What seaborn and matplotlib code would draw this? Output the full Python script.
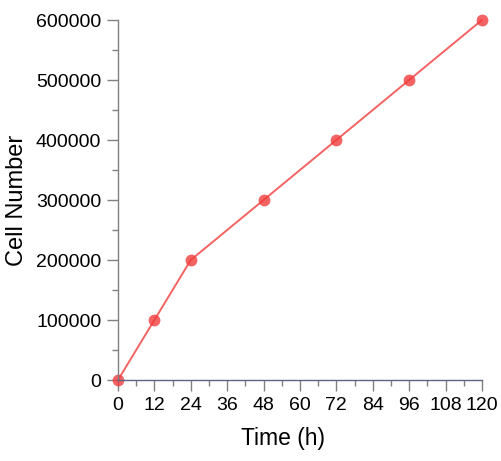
import matplotlib
matplotlib.use("Agg")
import matplotlib.pyplot as plt
from matplotlib.ticker import MultipleLocator
import seaborn as sns
import pandas as pd

time_h = [0, 12, 24, 48, 72, 96, 120]
cell_number = [0, 100000, 200000, 300000, 400000, 500000, 600000]
x_ticks = [0, 12, 24, 36, 48, 60, 72, 84, 96, 108, 120]

df = pd.DataFrame({"Time": time_h, "Cells": cell_number})

sns.set_style("white")
plt.rcParams["font.family"] = ["Liberation Sans", "DejaVu Sans"]
plt.rcParams["text.color"] = "black"
plt.rcParams["axes.labelcolor"] = "black"

fig = plt.figure(figsize=(5.01, 4.61), dpi=100)
ax = fig.add_axes([0.2355, 0.1757, 0.962 - 0.2355, 0.9566 - 0.1757])

sns.lineplot(data=df, x="Time", y="Cells", ax=ax, color="#f03c3c", alpha=0.8,
             linewidth=1.4, marker="o", markersize=8.5, markeredgewidth=0, clip_on=False)

ax.set_xlim(0, 120)
ax.set_ylim(0, 600000)
ax.set_xticks(x_ticks)
ax.xaxis.set_minor_locator(MultipleLocator(6))
ax.yaxis.set_major_locator(MultipleLocator(100000))
ax.yaxis.set_minor_locator(MultipleLocator(50000))
ax.ticklabel_format(axis="y", style="plain", useOffset=False)

for s in ["top", "right"]:
    ax.spines[s].set_visible(False)
ax.spines["left"].set_color("#808080")
ax.spines["bottom"].set_color("#5c6488")
ax.spines["left"].set_linewidth(1)
ax.spines["bottom"].set_linewidth(1)

ax.tick_params(axis="both", which="major", direction="out", length=8, width=1,
               color="#808080", labelsize=14, labelcolor="black", pad=4,
               bottom=True, left=True)
ax.tick_params(axis="both", which="minor", direction="out", length=4, width=1,
               color="#808080", bottom=True, left=True)

ax.set_xlabel("Time (h)", fontsize=16.5, labelpad=6)
ax.set_ylabel("Cell Number", fontsize=17, labelpad=6)
ax.xaxis.set_label_coords(0.453, -0.13)

fig.savefig("out.png", dpi=100)
